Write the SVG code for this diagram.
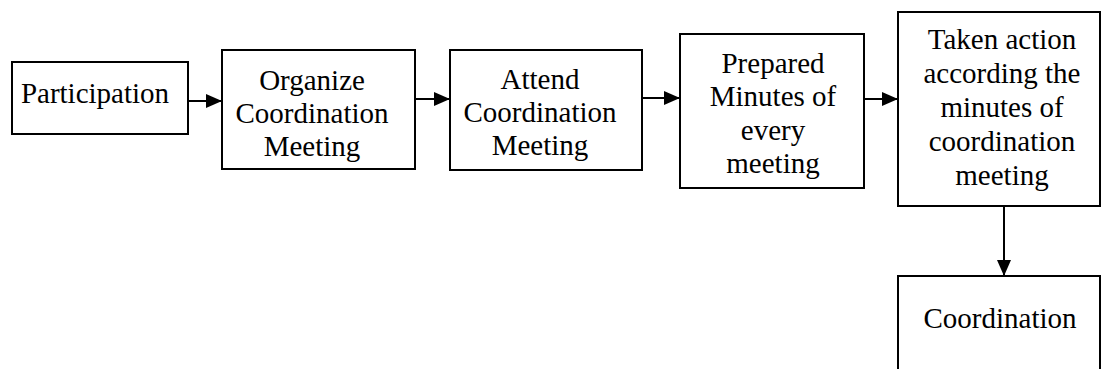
<svg xmlns="http://www.w3.org/2000/svg" width="1102" height="369" viewBox="0 0 1102 369">
  <style>
    .box { fill: #ffffff; stroke: #000000; stroke-width: 2; }
    .label { font-family: "Liberation Serif", "Times New Roman", serif; font-size: 29px; fill: #000000; text-anchor: middle; }
    .link { stroke: #000000; stroke-width: 2; fill: none; }
  </style>
  <defs>
    <marker id="arrow" viewBox="0 0 16 14" refX="16" refY="7" markerWidth="16" markerHeight="14" markerUnits="userSpaceOnUse" orient="auto">
      <path d="M0,0 L16,7 L0,14 Z" fill="#000000"/>
    </marker>
  </defs>
  <rect width="1102" height="369" fill="#ffffff"/>

  <g id="node-participation">
    <rect class="box" x="12" y="62" width="176" height="72"/>
    <text class="label" x="95" y="103">Participation</text>
  </g>

  <g id="node-organize">
    <rect class="box" x="222" y="50" width="193" height="119"/>
    <text class="label" x="312" y="89.5">Organize</text>
    <text class="label" x="312" y="122.5">Coordination</text>
    <text class="label" x="312" y="155.5">Meeting</text>
  </g>

  <g id="node-attend">
    <rect class="box" x="450" y="50" width="192" height="120"/>
    <text class="label" x="540" y="88.5">Attend</text>
    <text class="label" x="540" y="121.5">Coordination</text>
    <text class="label" x="540" y="154.5">Meeting</text>
  </g>

  <g id="node-minutes">
    <rect class="box" x="680" y="34" width="184" height="154"/>
    <text class="label" x="773" y="72.5">Prepared</text>
    <text class="label" x="773" y="106">Minutes of</text>
    <text class="label" x="773" y="139.5">every</text>
    <text class="label" x="773" y="173">meeting</text>
  </g>

  <g id="node-action">
    <rect class="box" x="898" y="12" width="202" height="194"/>
    <text class="label" x="1002" y="49">Taken action</text>
    <text class="label" x="1002" y="83">according the</text>
    <text class="label" x="1002" y="117">minutes of</text>
    <text class="label" x="1002" y="151">coordination</text>
    <text class="label" x="1002" y="185">meeting</text>
  </g>

  <g id="node-coordination">
    <rect class="box" x="898" y="276" width="202" height="110"/>
    <text class="label" x="1000" y="328">Coordination</text>
  </g>

  <g id="connectors">
    <line class="link" x1="188" y1="101" x2="222" y2="101" marker-end="url(#arrow)"/>
    <line class="link" x1="415" y1="99" x2="450" y2="99" marker-end="url(#arrow)"/>
    <line class="link" x1="642" y1="98" x2="680" y2="98" marker-end="url(#arrow)"/>
    <line class="link" x1="864" y1="99" x2="898" y2="99" marker-end="url(#arrow)"/>
    <line class="link" x1="1004" y1="206" x2="1004" y2="276" marker-end="url(#arrow)"/>
  </g>
</svg>
